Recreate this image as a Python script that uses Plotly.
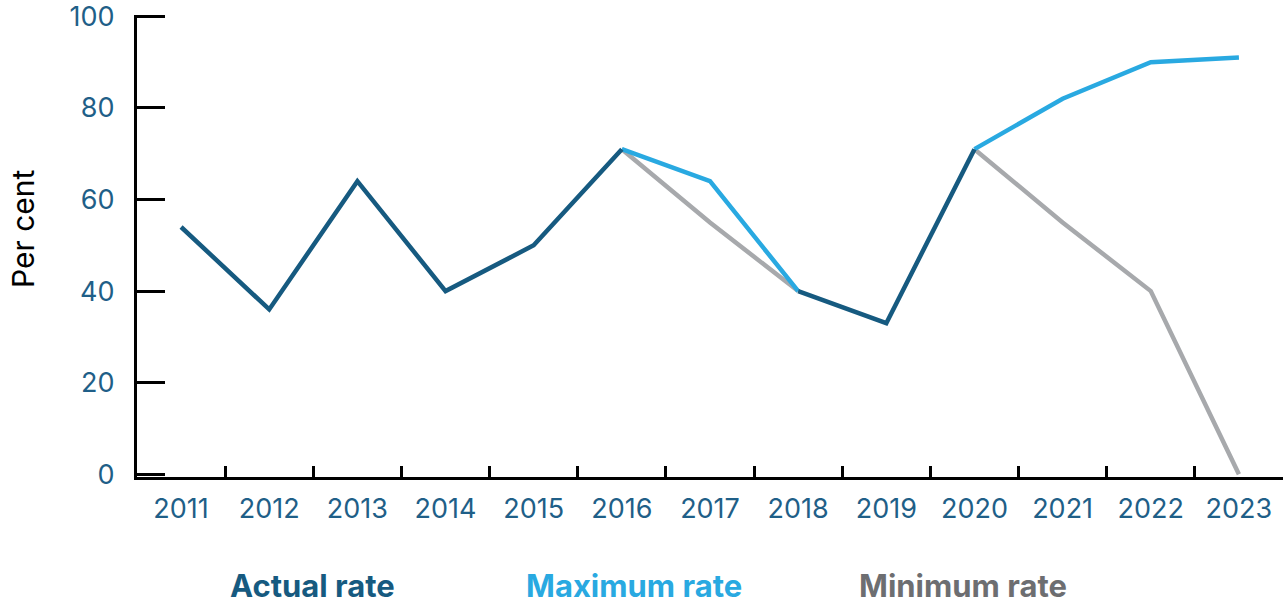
import plotly.graph_objects as go

years = ["2011", "2012", "2013", "2014", "2015", "2016", "2017", "2018", "2019", "2020", "2021", "2022", "2023"]
actual_rate = [54, 36, 64, 40, 50, 71, None, 40, 33, 71, None, None, None]
maximum_rate = [None, None, None, None, None, 71, 64, 40, None, 71, 82, 90, 91]
minimum_rate = [None, None, None, None, None, 71, 55, 40, None, 71, 55, 40, 0]
y_ticks = [0, 20, 40, 60, 80, 100]

C_ACT = "#165A80"
C_MAX = "#29A9E1"
C_MIN = "#A7A9AC"
TICK_C = "#1F5F88"
FONT = "Inter, 'Open Sans', sans-serif"

W, H = 1286, 603
ML, MR, MT, MB = 137, 3, 15, 126
PW, PH = W - ML - MR, H - MT - MB

fig = go.Figure()
fig.add_trace(go.Scatter(x=years, y=minimum_rate, mode="lines", name="Minimum rate",
                         line=dict(color=C_MIN, width=4.5), connectgaps=False))
fig.add_trace(go.Scatter(x=years, y=maximum_rate, mode="lines", name="Maximum rate",
                         line=dict(color=C_MAX, width=4.5), connectgaps=False))
fig.add_trace(go.Scatter(x=years, y=actual_rate, mode="lines", name="Actual rate",
                         line=dict(color=C_ACT, width=4.5), connectgaps=False))

fig.update_layout(
    width=W, height=H,
    margin=dict(l=ML, r=MR, t=MT, b=MB),
    paper_bgcolor="white", plot_bgcolor="white",
    showlegend=False,
    font=dict(family=FONT, size=27, color=TICK_C),
)
fig.update_xaxes(
    type="category", categoryorder="array", categoryarray=years,
    range=[-0.5, 12.5], automargin=False,
    showline=True, linecolor="black", linewidth=3,
    ticks="inside", tickson="boundaries", ticklen=11, tickwidth=2.5, tickcolor="black",
    showgrid=False, zeroline=False,
    tickfont=dict(family=FONT, size=27, color=TICK_C),
    ticklabelstandoff=6,
)
fig.update_yaxes(
    range=[-0.6, 100.3], tickvals=y_ticks, automargin=False,
    showline=True, linecolor="black", linewidth=3,
    ticks="inside", ticklen=28, tickwidth=2.5, tickcolor="black",
    showgrid=False, zeroline=False,
    tickfont=dict(family=FONT, size=27, color=TICK_C),
    ticklabelstandoff=14, ticklabeloverflow="allow",
)

# y-axis title
fig.add_annotation(text="Per cent", xref="paper", yref="paper",
                   x=(23 - ML) / PW, y=(H - MB - 229) / PH, textangle=-90,
                   showarrow=False, xanchor="center", yanchor="middle",
                   font=dict(family=FONT, size=30, color="black"))

legend_items = [("Actual rate", C_ACT, 312), ("Maximum rate", C_MAX, 634), ("Minimum rate", "#6D6E71", 963)]
for text, col, xpx in legend_items:
    fig.add_annotation(text=f"<b>{text}</b>", xref="paper", yref="paper",
                       x=(xpx - ML) / PW, y=(H - MB - 585) / PH,
                       showarrow=False, xanchor="center", yanchor="middle",
                       borderpad=0,
                       font=dict(family=FONT, size=31, color=col))

fig.write_html("out.html", config={"displayModeBar": False},
               post_script="document.body.style.margin='0';document.body.style.padding='0';")
